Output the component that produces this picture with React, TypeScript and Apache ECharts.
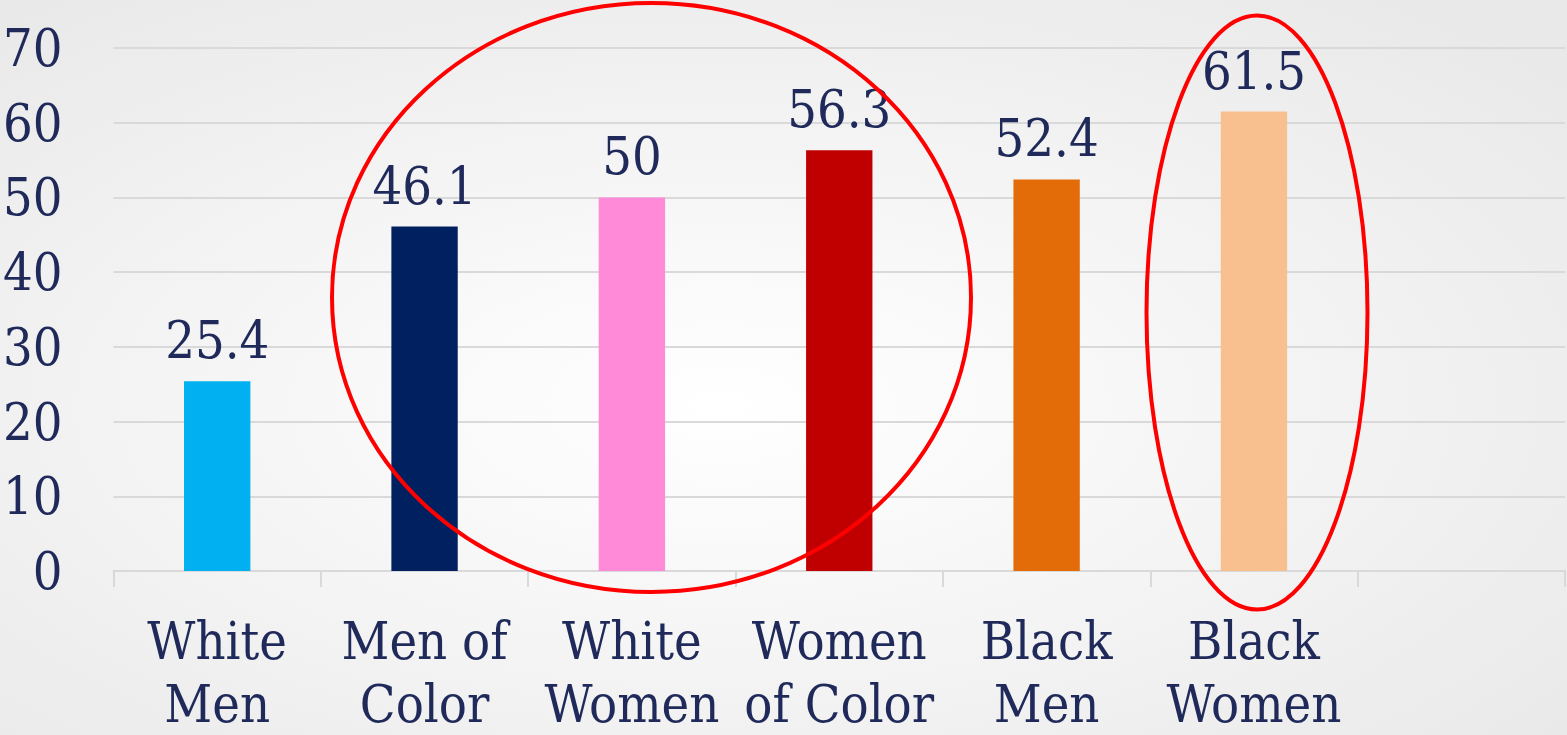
import React, { useEffect, useRef } from "react";
import * as echarts from "echarts";

const categories = ["White\nMen", "Men of\nColor", "White\nWomen", "Women\nof Color", "Black\nMen", "Black\nWomen", ""];
const values: (number | null)[] = [25.4, 46.1, 50, 56.3, 52.4, 61.5, null];
const barColors = ["#00B0F0", "#002060", "#FF8AD8", "#C00000", "#E36C09", "#F9C08F", "#ffffff"];
const yTicks = { min: 0, max: 70, interval: 10 };

const FONT = "'DejaVu Serif Condensed', 'Liberation Serif', serif";
const TEXT = "#1F2A5A";

export default function App() {
  const ref = useRef<HTMLDivElement>(null);
  useEffect(() => {
    if (!ref.current) return;
    const chart = echarts.init(ref.current, undefined, { renderer: "svg" });
    chart.setOption({
      animation: false,
      backgroundColor: {
        type: "radial",
        x: 0.46,
        y: 0.55,
        r: 0.7,
        colorStops: [
          { offset: 0, color: "#ffffff" },
          { offset: 0.15, color: "#fcfcfc" },
          { offset: 1, color: "#e9e9e9" },
        ],
      },
      grid: { left: 112, right: 2, top: 48, bottom: 158, containLabel: false },
      xAxis: {
        type: "category",
        data: categories,
        axisLine: { lineStyle: { color: "#d9d9d9", width: 2 } },
        axisTick: { show: true, alignWithLabel: false, length: 16, lineStyle: { color: "#d9d9d9", width: 2 } },
        axisLabel: {
          interval: 0,
          margin: 38,
          color: TEXT,
          fontFamily: FONT,
          fontSize: 52,
          lineHeight: 63,
          align: "center",
        },
      },
      yAxis: {
        type: "value",
        min: yTicks.min,
        max: yTicks.max,
        interval: yTicks.interval,
        axisLine: { show: false },
        axisTick: { show: false },
        splitLine: { lineStyle: { color: "#d9d9d9", width: 2 } },
        axisLabel: { margin: 51, color: TEXT, fontFamily: FONT, fontSize: 52 },
      },
      series: [
        {
          type: "bar",
          barWidth: "32%",
          data: values.map((v, i) => ({ value: v, itemStyle: { color: barColors[i] } })),
          label: {
            show: true,
            position: "top",
            distance: 15,
            color: TEXT,
            fontFamily: FONT,
            fontSize: 52,
          },
        },
      ],
      graphic: [
        {
          type: "ellipse",
          shape: { cx: 651.5, cy: 297.5, rx: 319.5, ry: 294.5 },
          style: { fill: "none", stroke: "#FF0000", lineWidth: 4 },
          z: 100,
        },
        {
          type: "ellipse",
          shape: { cx: 1257, cy: 312.5, rx: 110.5, ry: 297 },
          style: { fill: "none", stroke: "#FF0000", lineWidth: 4 },
          z: 100,
        },
      ],
    });
    return () => chart.dispose();
  }, []);
  return <div ref={ref} style={{ position: "fixed", left: 0, top: 0, width: 1567, height: 735 }} />;
}
